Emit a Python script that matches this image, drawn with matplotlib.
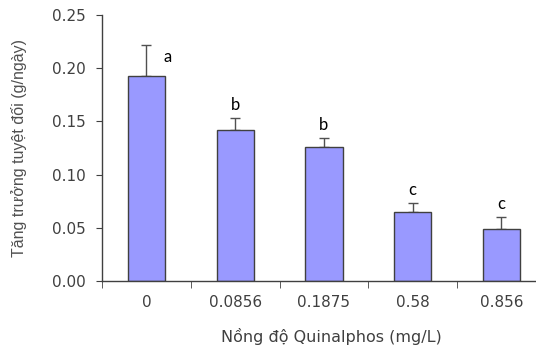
import numpy as np
import matplotlib
matplotlib.use("Agg")
import matplotlib.pyplot as plt

# data
concentrations = ["0", "0.0856", "0.1875", "0.58", "0.856"]
growth_mean = [0.193, 0.142, 0.126, 0.065, 0.049]
growth_err = [0.029, 0.011, 0.008, 0.008, 0.011]
group_letters = ["a", "b", "b", "c", "c"]

fig = plt.figure(figsize=(5.36, 3.47), dpi=100)
# right edge runs past the figure like in the original screenshot
ax = fig.add_axes([0.1903, 0.1902, 0.828, 0.7666])

x = np.arange(len(concentrations))
ax.bar(x, growth_mean, width=0.42, color="#9999ff", edgecolor="#404040", linewidth=1.0, zorder=2)
ax.errorbar(x, growth_mean, yerr=[np.zeros(len(x)), growth_err], fmt="none",
            ecolor="#505050", elinewidth=1.0, capsize=3.6, capthick=1.0, zorder=1)

for i, (m, e, lab) in enumerate(zip(growth_mean, growth_err, group_letters)):
    if i == 0:
        # the "a" sits to the right of its error bar
        ax.text(i + 0.24, m + e * 0.6, lab, ha="center", va="center",
                fontsize=12, family="Lato", color="black")
    else:
        ax.annotate(lab, (i, m + e), xytext=(0, 4), textcoords="offset points",
                    ha="center", va="bottom", fontsize=12, family="Lato", color="black")

ax.set_xlim(-0.5, len(concentrations) - 0.5)
ax.set_ylim(0, 0.25)
ax.set_yticks([0.0, 0.05, 0.10, 0.15, 0.20, 0.25])
ax.set_yticklabels([f"{v:.2f}" for v in [0.0, 0.05, 0.10, 0.15, 0.20, 0.25]])
ax.set_xticks(x)
ax.set_xticklabels(concentrations)
ax.set_xticks(np.arange(len(concentrations) + 1) - 0.5, minor=True)
ax.tick_params(axis="x", which="major", length=0, pad=10, labelsize=11, colors="#404040")
ax.tick_params(axis="x", which="minor", length=5, direction="out", color="#404040")
ax.tick_params(axis="y", length=4, direction="out", labelsize=11, colors="#404040", pad=8)

for side in ["top", "right"]:
    ax.spines[side].set_visible(False)
for side in ["left", "bottom"]:
    ax.spines[side].set_color("#404040")
    ax.spines[side].set_linewidth(1.0)

ax.set_xlabel("Nồng độ Quinalphos (mg/L)", fontsize=11.5, color="#404040")
ax.xaxis.set_label_coords(0.517, -0.175)
ax.set_ylabel("Tăng trưởng tuyệt đối (g/ngày)", fontsize=11.5, family="Liberation Sans", color="#505050")
ax.yaxis.set_label_coords(-0.17, 0.5)

fig.savefig("out.png", dpi=100)
